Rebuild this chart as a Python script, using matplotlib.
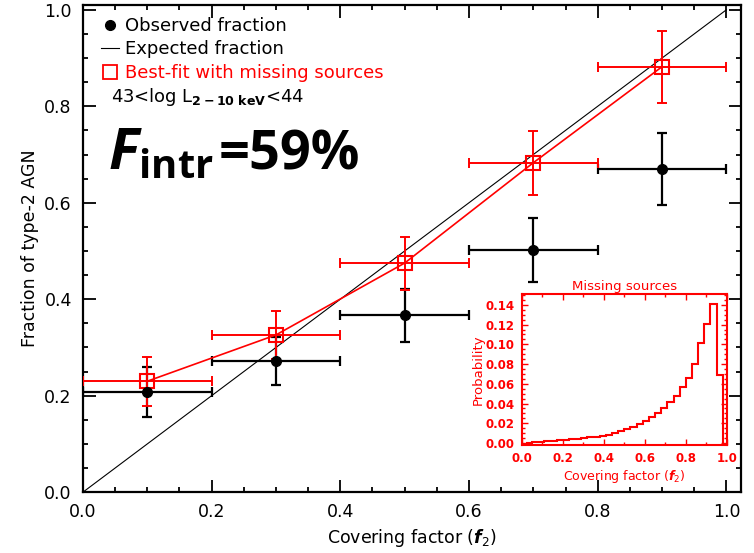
import numpy as np
import matplotlib
matplotlib.use("Agg")
import matplotlib.pyplot as plt
from matplotlib.lines import Line2D
from matplotlib.ticker import MultipleLocator

# observed and best-fit fractions per covering-factor bin
cov_bins = [0.1, 0.3, 0.5, 0.7, 0.9]
cov_halfwidth = [0.1, 0.1, 0.1, 0.1, 0.1]
obs_frac = [0.208, 0.272, 0.367, 0.502, 0.670]
obs_err = [0.052, 0.050, 0.055, 0.066, 0.075]
fit_frac = [0.230, 0.326, 0.475, 0.683, 0.882]
fit_err = [0.051, 0.050, 0.055, 0.066, 0.075]

# missing sources distribution (inset)
miss_edges = [0.02, 0.05, 0.08, 0.11, 0.14, 0.17, 0.20, 0.23, 0.26, 0.29, 0.32,
              0.35, 0.38, 0.41, 0.44, 0.47, 0.50, 0.53, 0.56, 0.59, 0.62, 0.65,
              0.68, 0.71, 0.74, 0.77, 0.80, 0.83, 0.86, 0.89, 0.92, 0.95, 0.98]
miss_prob = [0.0003, 0.001, 0.0015, 0.002, 0.0025, 0.003, 0.0035, 0.004,
             0.0045, 0.005, 0.0057, 0.0065, 0.0075, 0.0085, 0.010, 0.012,
             0.014, 0.016, 0.019, 0.022, 0.026, 0.030, 0.035, 0.042, 0.048,
             0.057, 0.066, 0.080, 0.101, 0.121, 0.141, 0.069]

RED = "#ff0000"

fig = plt.figure(figsize=(7.54, 5.53), dpi=100)
ax = fig.add_axes([0.110, 0.110, 0.873, 0.881])

ax.plot([0, 1], [0, 1], color="black", lw=0.8, zorder=1)

ax.errorbar(cov_bins, obs_frac, xerr=cov_halfwidth, yerr=obs_err, fmt="none",
            ecolor="black", elinewidth=1.6, capsize=3.5, capthick=1.6, zorder=2)
ax.errorbar(cov_bins, fit_frac, xerr=cov_halfwidth, yerr=fit_err, fmt="none",
            ecolor=RED, elinewidth=1.4, capsize=3.5, capthick=1.4, zorder=3)
ax.plot(cov_bins, fit_frac, color=RED, lw=1.2, zorder=3)
ax.plot(cov_bins, fit_frac, ls="none", marker="s", ms=9.5, mfc="none",
        mec=RED, mew=1.5, zorder=4)
ax.plot(cov_bins, obs_frac, ls="none", marker="o", ms=7, color="black", zorder=4)

ax.set_xlim(0, 1.023)
ax.set_ylim(0, 1.01)
ax.xaxis.set_major_locator(MultipleLocator(0.2))
ax.xaxis.set_minor_locator(MultipleLocator(0.05))
ax.yaxis.set_major_locator(MultipleLocator(0.2))
ax.yaxis.set_minor_locator(MultipleLocator(0.05))
ax.tick_params(which="both", direction="in", top=True, right=True, width=1.3,
               labelsize=12.5)
ax.tick_params(which="major", length=9, pad=8)
ax.tick_params(which="minor", length=3.5)
for s in ax.spines.values():
    s.set_linewidth(1.6)
ax.set_xlabel(r"Covering factor ($\boldsymbol{f}_2$)", fontsize=12.5, labelpad=4)
ax.set_ylabel("Fraction of type-2 AGN", fontsize=12.5, labelpad=4)

handles = [
    Line2D([], [], ls="none", marker="o", ms=7, color="black"),
    Line2D([], [], color="black", lw=0.8),
    Line2D([], [], ls="none", marker="s", ms=9.5, mfc="none", mec=RED, mew=1.3),
]
labels = ["Observed fraction", "Expected fraction", "Best-fit with missing sources"]
ax.legend(handles, labels, loc="upper left", bbox_to_anchor=(0.017, 0.99),
          frameon=False, fontsize=13, handlelength=1.0, handletextpad=0.3,
          labelspacing=0.3, borderaxespad=0,
          labelcolor=["black", "black", RED])

ax.text(0.043, 0.80, r"43<log L$_{\mathbf{2-10\ keV}}$<44", transform=ax.transAxes,
        fontsize=13, va="baseline")

plt.rcParams["mathtext.fontset"] = "custom"
plt.rcParams["mathtext.rm"] = "Open Sans"
plt.rcParams["mathtext.bf"] = "Open Sans:bold"
plt.rcParams["mathtext.bfit"] = "Open Sans:bold:italic"
ax.text(0.038, 0.663, r"$\mathbfit{F}_{\mathbf{intr}}$", transform=ax.transAxes,
        fontsize=41, va="baseline")
ax.text(0.206, 0.663, "=59%", transform=ax.transAxes, fontsize=39,
        fontweight="bold", family="Open Sans", va="baseline")
plt.rcParams["mathtext.fontset"] = "dejavusans"

# inset: distribution of missing sources
ins = fig.add_axes([0.692, 0.1953, 0.272, 0.273])
ins.stairs(miss_prob, miss_edges, color=RED, lw=1.5)
ins.set_xlim(0, 1)
ins.set_ylim(-0.002, 0.151)
ins.xaxis.set_major_locator(MultipleLocator(0.2))
ins.xaxis.set_minor_locator(MultipleLocator(0.1))
ins.yaxis.set_major_locator(MultipleLocator(0.02))
ins.yaxis.set_minor_locator(MultipleLocator(0.005))
ins.tick_params(which="both", direction="in", top=True, right=True, color=RED,
                labelcolor=RED, labelsize=8.5, width=1.0)
ins.tick_params(which="major", length=4, pad=5)
ins.tick_params(which="minor", length=2)
for lab in ins.get_xticklabels() + ins.get_yticklabels():
    lab.set_fontweight("bold")
for s in ins.spines.values():
    s.set_color(RED)
    s.set_linewidth(1.5)
ins.set_title("Missing sources", color=RED, fontsize=9.5, pad=3)
ins.set_xlabel(r"Covering factor ($\boldsymbol{f}_2$)", color=RED, fontsize=9,
               labelpad=2)
ins.set_ylabel("Probability", color=RED, fontsize=9.5, labelpad=1)

fig.savefig("out.png", dpi=100)
